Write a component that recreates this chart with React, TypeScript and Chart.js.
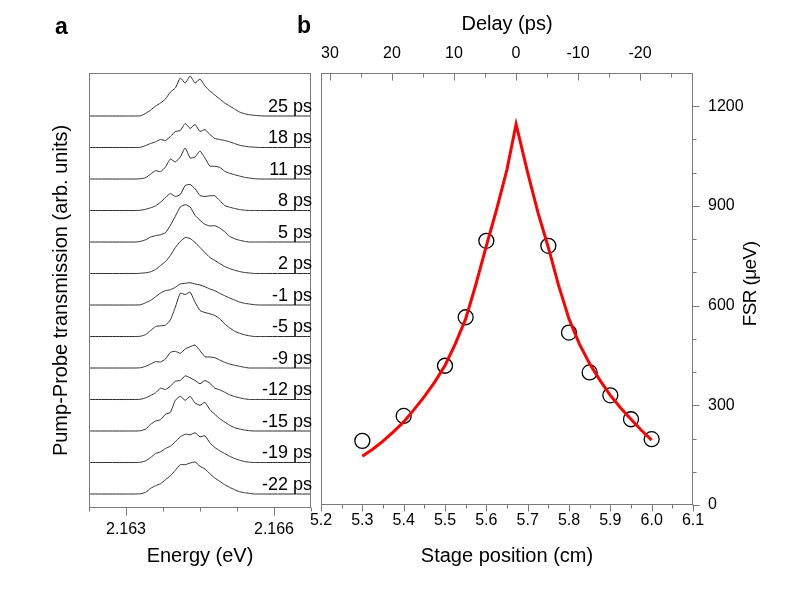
import React, { useEffect, useRef } from 'react';
import { Chart, registerables } from 'chart.js';

Chart.register(...registerables);

const FONT = "'Liberation Sans', Arial, Helvetica, sans-serif";
const AXIS_COLOR = '#7a7a7a';
const TRACE_COLOR = '#2b2b2b';

// ---------- Panel a data ----------
const ENERGY_EV = [
  2.16225, 2.1632, 2.1633, 2.1634, 2.1635, 2.1636, 2.1637, 2.1638, 2.1639, 2.164,
  2.1641, 2.1642, 2.1643, 2.1644, 2.1645, 2.1646, 2.1647, 2.1648, 2.1649, 2.165,
  2.1651, 2.1652, 2.1653, 2.1654, 2.1655, 2.1656, 2.1657, 2.1658, 2.1659, 2.16675,
];
const DELAY_LABELS = ['25 ps', '18 ps', '11 ps', '8 ps', '5 ps', '2 ps', '-1 ps', '-5 ps', '-9 ps', '-12 ps', '-15 ps', '-19 ps', '-22 ps'];

const T_P25 = [0, 0, 0.3, 2.7, 6, 10, 13, 17, 24, 28, 38, 33, 40, 33, 37, 30, 25, 21, 17, 13, 10, 7, 4, 2.3, 1.3, 0.7, 0.3, 0, 0, 0];
const T_P18 = [0, 0, 0.3, 2, 4, 5.7, 8, 7, 11, 16, 17, 24, 19, 23, 16, 18, 13, 9, 8, 7, 5.7, 4, 2.3, 1.3, 0.7, 0.3, 0, 0, 0, 0];
const T_P11 = [0, 0, 0.3, 1.3, 5, 8.3, 7.3, 12, 20, 17, 22, 31, 21, 22, 28, 21, 13, 12.7, 11.7, 7.7, 5.7, 4.3, 3, 1.7, 1, 0.3, 0, 0, 0, 0];
const T_P8 = [0, 0, 0.3, 1.3, 2.7, 4.7, 8.3, 13, 17, 14, 16, 25, 26, 21.7, 15, 14, 14.7, 14.7, 10, 5, 3.3, 2, 1, 0.3, 0, 0, 0, 0, 0, 0];
const T_P5 = [0, 0, 0.7, 2.3, 5, 6.3, 7.3, 9.3, 16.7, 25.7, 35, 37.3, 35, 26.7, 21.7, 17.7, 16, 16.3, 14, 10.3, 5.7, 3.3, 1.7, 0.7, 0, 0, 0, 0, 0, 0];
const T_P2 = [0, 0, 0.3, 0.7, 1.7, 4, 8, 12, 18, 26, 32, 36, 35, 31, 26, 21, 16, 13, 10, 7, 5, 3.3, 2, 1, 0.5, 0, 0, 0, 0, 0];
const T_M1 = [0, 0, 0.3, 2.3, 4.7, 8.3, 12, 14.3, 15.3, 17.7, 21, 21.7, 22.3, 21, 20, 18.3, 16, 14.3, 11.7, 9.3, 7, 5, 3, 1.7, 1, 0.3, 0, 0, 0, 0];
const T_M5 = [0, 0, 0.3, 2, 6, 10, 10.7, 11.3, 16.7, 29.3, 43.3, 42, 44.3, 34.3, 26, 24, 22.7, 21, 17.7, 12.7, 8.7, 5.3, 3.3, 1.7, 0.7, 0, 0, 0, 0, 0];
const T_M9 = [0, 0, 0.3, 1.7, 4, 6.3, 6, 9, 15.7, 16.7, 14.7, 19, 21.3, 23, 17.3, 11.3, 11, 10.3, 8, 5.7, 4, 2.7, 1.7, 0.7, 0, 0, 0, 0, 0, 0];
const T_M12 = [0, 0, 0.3, 1.7, 4, 6.7, 11.3, 10, 13.3, 18.3, 19, 23.7, 21.7, 19, 15.7, 19, 16.3, 11.3, 9.7, 7.3, 4.7, 3, 1.7, 0.7, 0, 0, 0, 0, 0, 0];
const T_M15 = [0, 0, 0.3, 2, 6.7, 10, 11.3, 16.7, 18.7, 30.7, 34.7, 30.7, 34.7, 28, 25.7, 28.7, 21.3, 16.7, 12.3, 9, 5.7, 3.3, 2, 1, 0.3, 0, 0, 0, 0, 0];
const T_M19 = [0, 0, 0.3, 1.7, 5, 9, 10.7, 14, 16.3, 20.7, 25.7, 28.3, 27.7, 29.7, 25.7, 26.7, 19.7, 15, 11.7, 9, 6.3, 4, 2.3, 1, 0.3, 0, 0, 0, 0, 0];
const T_M22 = [0, 0, 0.3, 1.7, 5.7, 8.3, 10.3, 14.3, 18.3, 23.7, 29.3, 29.3, 31, 32, 27.7, 25, 20.3, 16, 12.7, 9.3, 6.7, 4.3, 2.3, 1.3, 0.7, 0, 0, 0, 0, 0];

const SPECTRA = [T_P25, T_P18, T_P11, T_P8, T_P5, T_P2, T_M1, T_M5, T_M9, T_M12, T_M15, T_M19, T_M22];
const TRACE_STEP = 31.5; // vertical offset between traces (arb. units)

const E_TICKS = [2.163, 2.166];
const E_MINOR = [2.16225, 2.16375, 2.1645, 2.16525, 2.16675];

// ---------- Panel b data ----------
const STAGE_CM = [5.3, 5.4, 5.5, 5.55, 5.6, 5.75, 5.8, 5.85, 5.9, 5.95, 6.0];
const FSR_UEV = [193, 268, 419, 565, 795, 780, 519, 399, 330, 258, 198];

const FIT_CM = [5.3, 5.325, 5.35, 5.375, 5.4, 5.425, 5.45, 5.475, 5.5, 5.525, 5.55, 5.575, 5.6, 5.625, 5.65, 5.672,
  5.7, 5.725, 5.75, 5.775, 5.8, 5.825, 5.85, 5.875, 5.9, 5.925, 5.95, 5.975, 6.0];
const FIT_UEV = [147, 168, 192, 220, 250, 287, 326, 370, 420, 485, 560, 665, 780, 890, 1010, 1146,
  1000, 880, 775, 660, 560, 485, 425, 375, 330, 292, 258, 225, 195];

const POS_TICKS = [5.2, 5.3, 5.4, 5.5, 5.6, 5.7, 5.8, 5.9, 6.0, 6.1];
const POS_MINOR = [5.25, 5.35, 5.45, 5.55, 5.65, 5.75, 5.85, 5.95, 6.05];
const DELAY_TICKS = [30, 20, 10, 0, -10, -20];
const DELAY_MINOR = [25, 15, 5, -5, -15, -25];
const FSR_TICKS = [0, 300, 600, 900, 1200];
const FSR_MINOR = [100, 200, 400, 500, 700, 800, 1000, 1100];

type Side = 'left' | 'right' | 'top' | 'bottom';
interface TickSet { scale: string; side: Side; values: number[]; len: number; inward?: boolean }
interface TextItem { text: string; x: number; y: number; font: string; align?: CanvasTextAlign; baseline?: CanvasTextBaseline; rot?: number; spacing?: string }

function decor(id: string, frame: Side[], ticks: TickSet[], texts: (chart: any) => TextItem[]) {
  return {
    id,
    afterDraw(chart: any) {
      const { ctx, chartArea: a } = chart;
      ctx.save();
      ctx.strokeStyle = AXIS_COLOR;
      ctx.lineWidth = 1;
      ctx.beginPath();
      const L = Math.round(a.left) + 0.5, R = Math.round(a.right) - 0.5;
      const T = Math.round(a.top) + 0.5, B = Math.round(a.bottom) - 0.5;
      if (frame.includes('left')) { ctx.moveTo(L, T - 0.5); ctx.lineTo(L, B + 0.5); }
      if (frame.includes('right')) { ctx.moveTo(R, T - 0.5); ctx.lineTo(R, B + 0.5); }
      if (frame.includes('top')) { ctx.moveTo(L - 0.5, T); ctx.lineTo(R + 0.5, T); }
      if (frame.includes('bottom')) { ctx.moveTo(L - 0.5, B); ctx.lineTo(R + 0.5, B); }
      for (const t of ticks) {
        const sc = chart.scales[t.scale];
        for (const v of t.values) {
          const p = Math.round(sc.getPixelForValue(v)) + 0.5;
          if (t.side === 'bottom') {
            const d = t.inward ? -t.len : t.len;
            ctx.moveTo(p, B); ctx.lineTo(p, B + d);
          } else if (t.side === 'top') {
            const d = t.inward ? t.len : -t.len;
            ctx.moveTo(p, T); ctx.lineTo(p, T + d);
          } else if (t.side === 'right') {
            const d = t.inward ? -t.len : t.len;
            ctx.moveTo(R, p); ctx.lineTo(R + d, p);
          } else {
            const d = t.inward ? t.len : -t.len;
            ctx.moveTo(L, p); ctx.lineTo(L + d, p);
          }
        }
      }
      ctx.stroke();
      ctx.fillStyle = '#000';
      for (const it of texts(chart)) {
        ctx.save();
        ctx.font = it.font;
        ctx.textAlign = it.align || 'left';
        ctx.textBaseline = it.baseline || 'alphabetic';
        if (it.spacing) (ctx as any).letterSpacing = it.spacing;
        ctx.translate(it.x, it.y);
        if (it.rot) ctx.rotate(it.rot);
        ctx.fillText(it.text, 0, 0);
        ctx.restore();
      }
      ctx.restore();
    },
  };
}

const setTicks = (vals: number[]) => (s: any) => { s.ticks = vals.map((v) => ({ value: v })); };

export default function App() {
  const refA = useRef<HTMLCanvasElement>(null);
  const refB = useRef<HTMLCanvasElement>(null);

  useEffect(() => {
    Chart.defaults.font.family = FONT;
    Chart.defaults.color = '#000';
    const n = SPECTRA.length;

    const chartA = new Chart(refA.current as HTMLCanvasElement, {
      type: 'line',
      data: {
        datasets: SPECTRA.map((s, i) => ({
          label: DELAY_LABELS[i],
          data: s.map((h, j) => ({ x: ENERGY_EV[j], y: (n - 1 - i) * TRACE_STEP + h })),
          borderColor: TRACE_COLOR,
          borderWidth: 1,
          pointRadius: 0,
          tension: 0.15,
          fill: false,
        })),
      },
      options: {
        responsive: false,
        animation: false,
        layout: { padding: { left: 0, top: 73, right: 478, bottom: 0 } },
        plugins: { legend: { display: false }, tooltip: { enabled: false } },
        scales: {
          x: {
            type: 'linear', position: 'bottom', min: 2.16225, max: 2.16675,
            afterBuildTicks: setTicks(E_TICKS),
            afterFit: (s: any) => { s.height = 96; },
            grid: { display: false, drawTicks: false },
            border: { display: false },
            ticks: { font: { size: 16 }, color: '#000', padding: 12, autoSkip: false, maxRotation: 0, callback: (v: any) => Number(v).toFixed(3) },
            title: { display: true, text: 'Energy (eV)', font: { size: 20 }, color: '#000', padding: { top: 0, bottom: 36 } },
          },
          y: {
            type: 'linear', position: 'left', min: -14, max: 421,
            afterFit: (s: any) => { s.width = 89; },
            grid: { display: false, drawTicks: false },
            border: { display: false },
            ticks: { display: false },
            title: { display: true, text: 'Pump-Probe transmission (arb. units)', font: { size: 20 }, color: '#000', padding: { top: 49, bottom: 0 } },
          },
        },
      },
      plugins: [
        decor('decorA', ['left', 'right', 'top', 'bottom'], [
          { scale: 'x', side: 'bottom', values: E_TICKS, len: 8 },
          { scale: 'x', side: 'bottom', values: E_MINOR, len: 4 },
        ], (chart: any) => {
          const ys = chart.scales.y;
          const R = chart.chartArea.right;
          const items: TextItem[] = DELAY_LABELS.map((t, i) => ({
            text: t, x: R + 1, y: ys.getPixelForValue((n - 1 - i) * TRACE_STEP) - 4.5,
            font: `18px ${FONT}`, align: 'right' as CanvasTextAlign,
          }));
          items.push({ text: 'a', x: 55, y: 34, font: `bold 23px ${FONT}` });
          return items;
        }),
      ],
    } as any);

    const chartB = new Chart(refB.current as HTMLCanvasElement, {
      type: 'line',
      data: {
        datasets: [
          {
            label: 'fit',
            data: FIT_CM.map((x, i) => ({ x, y: FIT_UEV[i] })),
            borderColor: '#ff0000',
            borderWidth: 3,
            pointRadius: 0,
            tension: 0,
            borderJoinStyle: 'miter',
            xAxisID: 'x', yAxisID: 'y',
          },
          {
            label: 'FSR',
            data: STAGE_CM.map((x, i) => ({ x, y: FSR_UEV[i] })),
            showLine: false,
            pointRadius: 7.5,
            pointBorderWidth: 1.3,
            pointBorderColor: '#000',
            pointBackgroundColor: 'rgba(0,0,0,0)',
            xAxisID: 'x', yAxisID: 'y',
          },
        ],
      },
      options: {
        responsive: false,
        animation: false,
        layout: { padding: { left: 321, top: 0, right: 0, bottom: 0 } },
        plugins: { legend: { display: false }, tooltip: { enabled: false } },
        scales: {
          x: {
            type: 'linear', position: 'bottom', min: 5.2, max: 6.1,
            afterBuildTicks: setTicks(POS_TICKS),
            afterFit: (s: any) => { s.height = 99; },
            grid: { display: false, drawTicks: false },
            border: { display: false },
            ticks: { font: { size: 16 }, color: '#000', padding: 6, autoSkip: false, maxRotation: 0, callback: (v: any) => Number(v).toFixed(1) },
            title: { display: true, text: 'Stage position (cm)', font: { size: 20 }, color: '#000', padding: { top: 0, bottom: 36 } },
          },
          xTop: {
            type: 'linear', axis: 'x', position: 'top', min: -28.55, max: 31.45, reverse: true,
            afterBuildTicks: setTicks(DELAY_TICKS),
            afterFit: (s: any) => { s.height = 73; },
            grid: { display: false, drawTicks: false },
            border: { display: false },
            ticks: { font: { size: 16 }, color: '#000', padding: 10, autoSkip: false, maxRotation: 0, callback: (v: any) => String(v) },
            title: { display: true, text: 'Delay (ps)', font: { size: 20 }, color: '#000', padding: { top: 12, bottom: 0 } },
          },
          y: {
            type: 'linear', position: 'right', min: 0, max: 1300,
            afterBuildTicks: setTicks(FSR_TICKS),
            afterFit: (s: any) => { s.width = 96; },
            grid: { display: false, drawTicks: false },
            border: { display: false },
            ticks: { font: { size: 16 }, color: '#000', padding: 15, autoSkip: false, callback: (v: any) => String(v) },
          },
        },
      },
      plugins: [
        decor('decorB', ['left', 'right', 'top', 'bottom'], [
          { scale: 'x', side: 'bottom', values: POS_TICKS, len: 7 },
          { scale: 'x', side: 'bottom', values: POS_MINOR, len: 4 },
          { scale: 'xTop', side: 'top', values: DELAY_TICKS, len: 7, inward: true },
          { scale: 'xTop', side: 'top', values: DELAY_MINOR, len: 4, inward: true },
          { scale: 'y', side: 'right', values: FSR_TICKS, len: 7 },
          { scale: 'y', side: 'right', values: FSR_MINOR, len: 4 },
        ], (chart: any) => {
          const a = chart.chartArea;
          return [
            { text: 'b', x: 297, y: 33, font: `bold 23px ${FONT}` },
            { text: 'FSR (\u03bceV)', x: 751, y: (a.top + a.bottom) / 2 - 5, font: `19px ${FONT}`, align: 'center', baseline: 'middle', rot: -Math.PI / 2, spacing: '-0.6px' },
          ];
        }),
      ],
    } as any);

    return () => { chartA.destroy(); chartB.destroy(); };
  }, []);

  const cstyle: React.CSSProperties = { position: 'absolute', left: 0, top: 0, width: 789, height: 604 };
  return (
    <div style={{ position: 'absolute', left: 0, top: 0, width: 789, height: 604, background: '#fff', overflow: 'hidden' }}>
      <canvas ref={refA} width={789} height={604} style={cstyle} />
      <canvas ref={refB} width={789} height={604} style={cstyle} />
    </div>
  );
}
